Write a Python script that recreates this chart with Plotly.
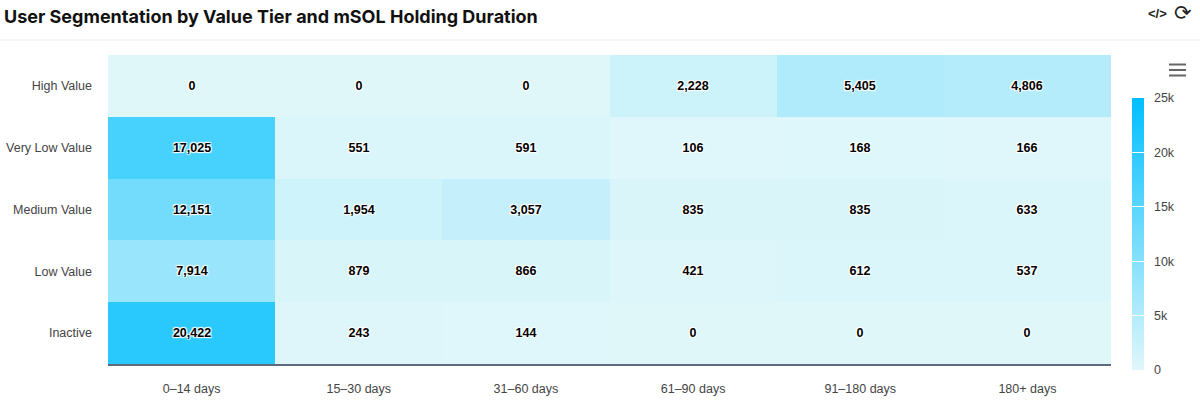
import plotly.graph_objects as go

durations = ["0–14 days", "15–30 days", "31–60 days", "61–90 days", "91–180 days", "180+ days"]
tiers = ["Inactive", "Low Value", "Medium Value", "Very Low Value", "High Value"]
inactive = [20422, 243, 144, 0, 0, 0]
low_value = [7914, 879, 866, 421, 612, 537]
medium_value = [12151, 1954, 3057, 835, 835, 633]
very_low_value = [17025, 551, 591, 106, 168, 166]
high_value = [0, 0, 0, 2228, 5405, 4806]
z = [inactive, low_value, medium_value, very_low_value, high_value]
colorbar_ticks = [0, 5000, 10000, 15000, 20000, 25000]
colorbar_labels = ["0", "5k", "10k", "15k", "20k", "25k"]

W, H = 1200, 406
fig = go.Figure(go.Heatmap(
    z=z, x=durations, y=tiers, zmin=0, zmax=25000,
    colorscale=[[0, "#E0F7FA"], [1, "#00BFFF"]],
    xgap=0, ygap=0,
    texttemplate="%{z:,d}",
    textfont=dict(family="Liberation Sans", size=12.5, color="#000000", weight="bold",
                  shadow="1px 1px 1px #fff, -1px -1px 1px #fff, 1px -1px 1px #fff, -1px 1px 1px #fff"),
    colorbar=dict(
        thickness=12, thicknessmode="pixels",
        len=272, lenmode="pixels",
        x=1132 / W, xref="container", xanchor="left", xpad=0,
        y=1 - (98 - 55) / 309, yref="paper", yanchor="top", ypad=0,
        outlinewidth=0, borderwidth=0,
        tickvals=colorbar_ticks, ticktext=["\u00a0\u00a0" + s for s in colorbar_labels],
        ticks="inside", ticklen=12, tickcolor="#ffffff", tickwidth=1,
        tickfont=dict(family="Liberation Sans", size=12.5, color="#444444"),
    ),
    hovertemplate="%{y}<br>%{x}: %{z:,d}<extra></extra>",
))

fig.update_layout(
    width=W, height=H, autosize=False,
    paper_bgcolor="#ffffff", plot_bgcolor="#ffffff",
    margin=dict(l=108, r=W - 1111, t=55, b=H - 364, pad=0, autoexpand=False),
    title=dict(text="<b>User Segmentation by Value Tier and mSOL Holding Duration</b>",
               x=4 / W, xanchor="left", xref="container", y=1 - 17 / H, yanchor="middle",
               font=dict(family="Inter", size=18, color="#111111")),
    xaxis=dict(side="bottom", showgrid=False, zeroline=False, showline=True, linecolor="#5f6b7a", linewidth=2,
               automargin=False, ticks="", ticklabelstandoff=12,
               tickfont=dict(family="Liberation Sans", size=12.5, color="#444444")),
    yaxis=dict(showgrid=False, zeroline=False, ticks="", ticklen=0, ticklabelstandoff=15,
               automargin=False, tickfont=dict(family="Liberation Sans", size=12.5, color="#444444")),
    shapes=[
        dict(type="line", xref="paper", yref="paper", x0=-108 / 1003, x1=(W - 108) / 1003,
             y0=(364 - 40) / 309, y1=(364 - 40) / 309, line=dict(color="#ebebf5", width=1)),
    ] + [
        dict(type="line", xref="paper", yref="paper", x0=(1169 - 108) / 1003, x1=(1186 - 108) / 1003,
             y0=(364 - yy) / 309, y1=(364 - yy) / 309, line=dict(color="#666666", width=2))
        for yy in (64.5, 70, 75.5)
    ],
    annotations=[
        dict(text="<b></></b>", xref="paper", yref="paper", x=(1157.5 - 108) / 1003, y=(364 - 13) / 309,
             showarrow=False, xanchor="center", yanchor="middle",
             font=dict(family="Liberation Sans", size=13, color="#222222")),
        dict(text="⟳", xref="paper", yref="paper", x=(1183 - 108) / 1003, y=(364 - 13) / 309,
             showarrow=False, xanchor="center", yanchor="middle",
             font=dict(family="DejaVu Sans", size=21, color="#222222")),
    ],
)
fig.write_html("out.html", config={"displayModeBar": False},
               post_script="document.body.style.margin='0';document.body.style.overflow='hidden';")
